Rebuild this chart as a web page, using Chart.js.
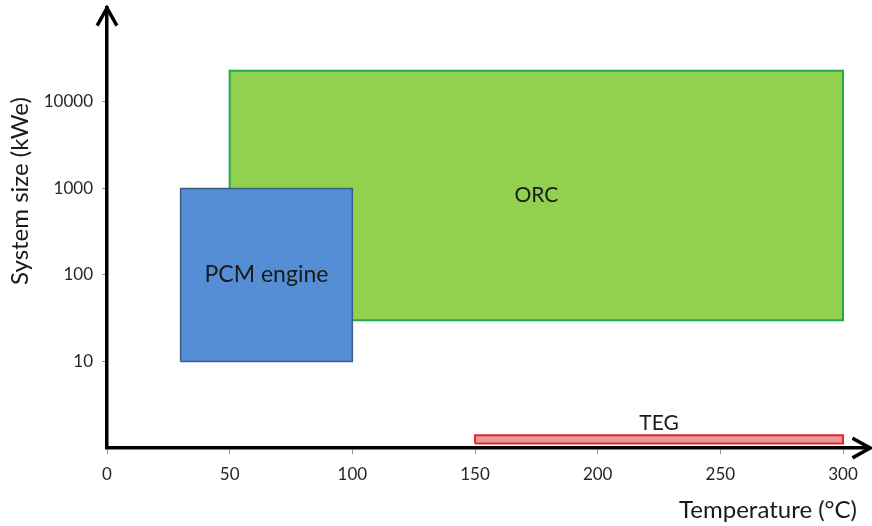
<!DOCTYPE html>
<html>
<head>
<meta charset="utf-8">
<script src="https://cdn.jsdelivr.net/npm/chart.js@4.4.1/dist/chart.umd.min.js"></script>
<style>
  html, body { margin: 0; padding: 0; background: #ffffff; }
  #wrap { width: 872px; height: 526px; }
</style>
</head>
<body>
<div id="wrap"><canvas id="c" width="872" height="526"></canvas></div>
<script>
// Operating windows of each waste-heat technology
const technologies = ['ORC', 'PCM engine', 'TEG'];
const tempMin = [50, 30, 150];        // °C
const tempMax = [300, 100, 300];      // °C
const sizeMin = [30, 10, 1.13];       // kWe
const sizeMax = [23000, 1000, 1.4];   // kWe

const xTickValues = [0, 50, 100, 150, 200, 250, 300];
const yTickValues = [10, 100, 1000, 10000];

const fillColors = ['#92D050', '#558ED5', '#E6999B'];
const lineColors = ['#22A84C', '#3D5C88', '#E8262B'];

const FONT = 'Lato, "Liberation Sans", sans-serif';

// each window becomes a closed outline that the filler paints inside
function outline(i) {
  return [
    { x: tempMin[i], y: sizeMin[i] },
    { x: tempMin[i], y: sizeMax[i] },
    { x: tempMax[i], y: sizeMax[i] },
    { x: tempMax[i], y: sizeMin[i] },
    { x: tempMin[i], y: sizeMin[i] }
  ];
}

const datasets = technologies.map((name, i) => ({
  label: name,
  data: outline(i),
  showLine: true,
  fill: 'shape',
  backgroundColor: fillColors[i],
  borderColor: lineColors[i],
  borderWidth: i === 1 ? 1.5 : 2,
  pointRadius: 0,
  tension: 0,
  order: technologies.length - i
}));

const decor = {
  id: 'decor',
  afterDatasetsDraw(chart) {
    const { ctx, scales: { x, y } } = chart;
    ctx.save();
    ctx.fillStyle = '#1a1a1a';
    ctx.textAlign = 'center';
    ctx.textBaseline = 'middle';
    technologies.forEach((name, i) => {
      const cx = x.getPixelForValue((tempMin[i] + tempMax[i]) / 2);
      let cy;
      if (name === 'TEG') {
        cy = y.getPixelForValue(sizeMax[i]) - 12;
      } else {
        cy = y.getPixelForValue(Math.sqrt(sizeMin[i] * sizeMax[i]));
      }
      ctx.font = (name === 'PCM engine' ? 23 : 21) + 'px ' + FONT;
      ctx.fillText(name, cx, cy);
    });
    ctx.restore();
  },
  afterDraw(chart) {
    const { ctx, chartArea: a } = chart;
    ctx.save();
    // arrowheads at the ends of both axes
    ctx.strokeStyle = '#000';
    ctx.lineWidth = 3.5;
    ctx.lineCap = 'square';
    ctx.lineJoin = 'miter';
    ctx.beginPath();
    ctx.moveTo(a.left - 9, a.top + 16);
    ctx.lineTo(a.left, a.top);
    ctx.lineTo(a.left + 9, a.top + 16);
    ctx.stroke();
    ctx.beginPath();
    ctx.moveTo(a.right - 16, a.bottom - 9);
    ctx.lineTo(a.right, a.bottom);
    ctx.lineTo(a.right - 16, a.bottom + 9);
    ctx.stroke();

    // axis titles
    ctx.fillStyle = '#1a1a1a';
    ctx.font = '24px ' + FONT;
    ctx.textBaseline = 'middle';
    ctx.textAlign = 'right';
    ctx.fillText('Temperature (°C)', 857, 510);
    ctx.translate(20, 191);
    ctx.rotate(-Math.PI / 2);
    ctx.textAlign = 'center';
    ctx.fillText('System size (kWe)', 0, 0);
    ctx.restore();
  }
};

new Chart(document.getElementById('c'), {
  type: 'scatter',
  data: { datasets },
  options: {
    responsive: false,
    animation: false,
    layout: { padding: { top: 8, right: 2, left: 0, bottom: 0 } },
    plugins: {
      legend: { display: false },
      tooltip: { enabled: false }
    },
    scales: {
      x: {
        type: 'linear',
        min: 0,
        max: 311,
        afterBuildTicks: s => { s.ticks = xTickValues.map(v => ({ value: v })); },
        afterFit: s => { s.height = 78; s.paddingLeft = 0; s.paddingRight = 0; },
        grid: { drawOnChartArea: false, drawTicks: true, tickLength: 6, tickWidth: 1, tickColor: '#8094b8' },
        border: { display: true, color: '#000', width: 3.5 },
        ticks: { color: '#262626', font: { family: FONT, size: 17 }, padding: 10, maxRotation: 0, callback: v => String(v) }
      },
      y: {
        type: 'logarithmic',
        min: 1,
        max: 122000,
        afterBuildTicks: s => { s.ticks = yTickValues.map(v => ({ value: v })); },
        afterFit: s => { s.width = 107; s.paddingTop = 0; s.paddingBottom = 0; },
        grid: { drawOnChartArea: false, drawTicks: true, tickLength: 5, tickWidth: 1, tickColor: '#8094b8' },
        border: { display: true, color: '#000', width: 3.5 },
        ticks: { color: '#262626', font: { family: FONT, size: 17 }, padding: 9, callback: v => String(v) }
      }
    }
  },
  plugins: [decor]
});
</script>
</body>
</html>
